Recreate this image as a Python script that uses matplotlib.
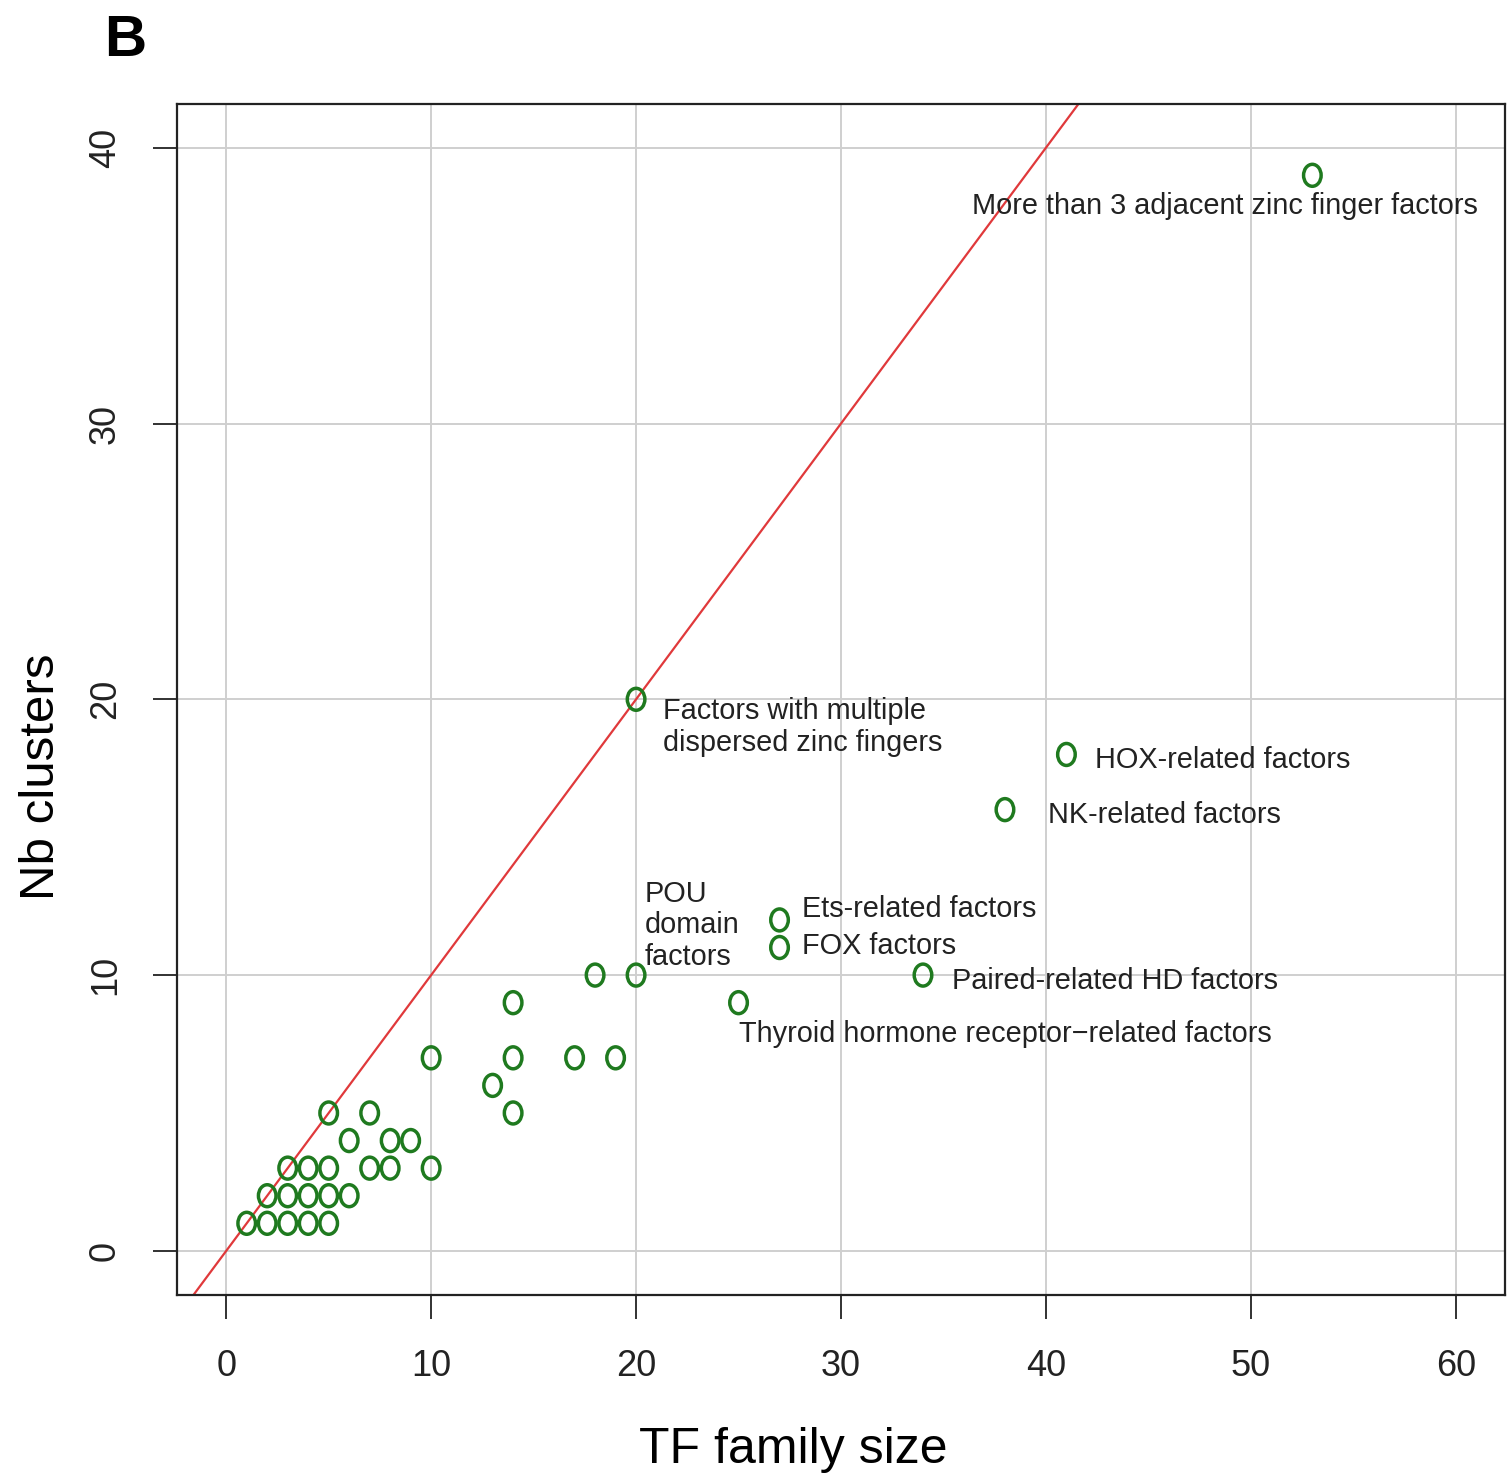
import numpy as np
import matplotlib.pyplot as plt
from matplotlib.path import Path
from matplotlib.transforms import Affine2D

plt.rcParams['font.family'] = ['Liberation Sans', 'DejaVu Sans']

# Datos: tamaño de familia TF vs numero de clusters
fam_size = [1, 2, 3, 4, 5,
            2, 3, 4, 5, 6,
            3, 4, 5, 7, 8, 10,
            6, 8, 9,
            5, 7, 14,
            13,
            10, 14, 17, 19,
            14, 25,
            18, 20, 34,
            27, 27,
            38, 41, 20, 53]
nb_clusters = [1, 1, 1, 1, 1,
               2, 2, 2, 2, 2,
               3, 3, 3, 3, 3, 3,
               4, 4, 4,
               5, 5, 5,
               6,
               7, 7, 7, 7,
               9, 9,
               10, 10, 10,
               11, 12,
               16, 18, 20, 39]

# Etiquetas de familias (x, y, texto)
lab_x = [36.4, 21.3, 42.4, 40.1, 20.4, 28.1, 28.1, 35.4, 25.0]
lab_y = [37.9, 19.0, 17.8, 15.8, 11.8, 12.4, 11.05, 9.8, 7.86]
lab_txt = ['More than 3 adjacent zinc finger factors',
           'Factors with multiple\ndispersed zinc fingers',
           'HOX-related factors',
           'NK-related factors',
           'POU\ndomain\nfactors',
           'Ets-related factors',
           'FOX factors',
           'Paired-related HD factors',
           'Thyroid hormone receptor\u2212related factors']

fig = plt.figure(figsize=(15.08, 14.8), dpi=100)
ax = fig.add_axes([0.1174, 0.125, 0.8806, 0.805])

ax.set_xlim(-2.4, 62.4)
ax.set_ylim(-1.6, 41.6)
ax.set_xticks(range(0, 61, 10))
ax.set_yticks(range(0, 41, 10))
ax.grid(True, color='#cfcfcf', lw=1.4)
ax.set_axisbelow(True)

# linea y = x
ax.axline((0, 0), slope=1, color='#e0393b', lw=1.6, zorder=2)

# marcador tipo "o" (elipse)
ell = Path.unit_circle().transformed(Affine2D().scale(0.8, 1.0))
ax.scatter(fam_size, nb_clusters, marker=ell, s=250, facecolors='none',
           edgecolors='#1f7a1f', linewidths=2.5, zorder=3)

for xx, yy, t in zip(lab_x, lab_y, lab_txt):
    ax.text(xx, yy, t, fontsize=20.8, color='#222222', ha='left', va='center',
            linespacing=1.15, zorder=4)

for s in ax.spines.values():
    s.set_linewidth(1.6)
    s.set_color('#222222')

ax.tick_params(direction='out', length=17, width=1.3, labelsize=26,
               pad=22, colors='#222222')
for lb in ax.get_yticklabels():
    lb.set_rotation(90)
    lb.set_va('center')

ax.set_xlabel('TF family size', fontsize=36)
ax.set_ylabel('Nb clusters', fontsize=35.5)
ax.xaxis.set_label_coords(0.464, -0.130)
ax.xaxis.label.set_va('center')
ax.yaxis.set_label_coords(-0.1017, 0.4346)
ax.yaxis.label.set_va('center')

fig.text(0.069, 0.972, 'B', fontsize=42, fontweight='bold', ha='left', va='center')

fig.savefig('out.png', dpi=100)
